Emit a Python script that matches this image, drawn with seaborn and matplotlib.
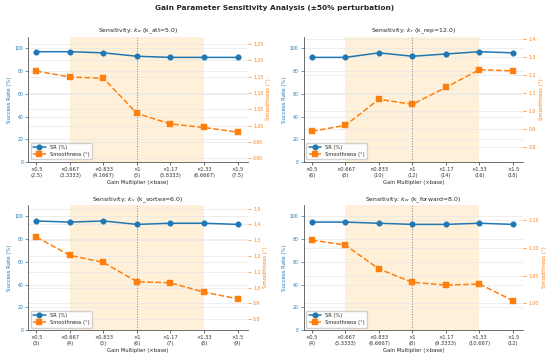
import matplotlib
matplotlib.use("Agg")
import matplotlib.pyplot as plt
import matplotlib.transforms as mtransforms
import seaborn as sns
import pandas as pd

# multipliers on x axis
multipliers = [0.5, 0.667, 0.833, 1, 1.17, 1.33, 1.5]
mult_exact = [0.5, 2 / 3, 5 / 6, 1.0, 7 / 6, 4 / 3, 1.5]

# per-gain settings
gain_symbols = ["k_a", "k_r", "k_v", "k_w"]
gain_names = ["k_att", "k_rep", "k_vortex", "k_forward"]
gain_bases = [5.0, 12.0, 6.0, 8.0]

# success rate (%)
sr_att = [97, 97, 96, 93, 92, 92, 92]
sr_rep = [92, 92, 96, 93, 95, 97, 96]
sr_vortex = [96, 95, 96, 93, 94, 94, 93]
sr_forward = [95, 95, 94, 93, 93, 94, 93]

# smoothness (deg)
sm_att = [1.167, 1.149, 1.145, 1.037, 1.005, 0.994, 0.980]
sm_rep = [0.889, 0.922, 1.066, 1.038, 1.132, 1.230, 1.223]
sm_vortex = [1.320, 1.204, 1.159, 1.037, 1.030, 0.971, 0.929]
sm_forward = [1.114, 1.105, 1.062, 1.038, 1.033, 1.035, 1.005]

# right axis limits
sm_limits = [(0.888, 1.272), (0.719, 1.411), (0.730, 1.523), (0.952, 1.177)]
sr_ticks = [0, 20, 40, 60, 80, 100]

sr_all = [sr_att, sr_rep, sr_vortex, sr_forward]
sm_all = [sm_att, sm_rep, sm_vortex, sm_forward]

sns.set_style("whitegrid")
plt.rcParams['font.family'] = ['DejaVu Sans']

blue = '#1f77b4'
orange = '#ff7f0e'
grid_c = '#e8e8e8'

fig, axes = plt.subplots(2, 2, figsize=(5.5, 3.55), dpi=100)
fig.subplots_adjust(left=0.051, right=0.951, top=0.896, bottom=0.07,
                    wspace=0.255, hspace=0.344)
fig.suptitle('Gain Parameter Sensitivity Analysis (±50% perturbation)',
             fontsize=5.3, fontweight='bold', y=0.985)

for i, ax in enumerate(axes.flat):
    base = gain_bases[i]
    df = pd.DataFrame({'x': range(len(multipliers)),
                       'sr': sr_all[i], 'sm': sm_all[i]})
    labels = [f"×{m:g}\n({base * me:.5g})" for m, me in zip(multipliers, mult_exact)]

    ax2 = ax.twinx()
    # ax (success rate) on top, ax2 (grid, shading, smoothness) underneath
    ax.set_zorder(ax2.get_zorder() + 1)
    ax.patch.set_visible(False)

    ax.set_ylim(0, 110)
    ax.set_xlim(-0.25, 6.3)
    ax2.set_ylim(*sm_limits[i])
    ax.set_xticks(range(len(multipliers)))
    ax.set_xticklabels(labels)
    ax.set_yticks(sr_ticks)

    # all grid lines live on the lower axes
    ax.grid(False)
    ax2.grid(True, color=grid_c, lw=0.5)
    ax2.xaxis.grid(True, color=grid_c, lw=0.5)
    trans = mtransforms.blended_transform_factory(ax2.transAxes, ax.transData)
    for t in sr_ticks:
        ax2.plot([0, 1], [t, t], transform=trans, color=grid_c, lw=0.5, zorder=0.5)

    ax2.axvspan(1, 5, color='#ffa500', alpha=0.15, lw=0, zorder=0)
    ax2.axvline(3, color='gray', ls=':', lw=0.7, zorder=1)

    sns.lineplot(data=df, x='x', y='sm', ax=ax2, color=orange, marker='s',
                 markersize=3.8, markerfacecolor=orange, markeredgecolor=orange,
                 markeredgewidth=0.3, lw=1.1, ls='--',
                 label='Smoothness (°)', legend=False, zorder=3)
    sns.lineplot(data=df, x='x', y='sr', ax=ax, color=blue, marker='o',
                 markersize=4, markerfacecolor=blue, markeredgecolor=blue,
                 markeredgewidth=0.3, lw=1.1, label='SR (%)', legend=False)

    ax.set_title(f"Sensitivity: ${gain_symbols[i]}$ ({gain_names[i]}={base:.1f})",
                 fontsize=4.4, pad=3)
    ax.set_xlabel('Gain Multiplier (×base)', fontsize=3.8, labelpad=1.5)
    ax.set_ylabel('Success Rate (%)', fontsize=3.9, color=blue, labelpad=2)
    ax2.set_ylabel('Smoothness (°)', fontsize=3.9, color=orange, labelpad=2)

    ax.tick_params(axis='x', labelsize=3.7, bottom=True, length=2, width=0.5,
                   pad=1.5, colors='#333333')
    ax.tick_params(axis='y', labelsize=3.3, left=True, length=2, width=0.5,
                   pad=1.5, colors=blue)
    ax2.tick_params(axis='y', labelsize=3.3, right=True, length=2, width=0.5,
                    pad=2, colors=orange)

    for s in ['top', 'right']:
        ax.spines[s].set_visible(False)
    for s in ['top', 'right', 'left', 'bottom']:
        ax2.spines[s].set_visible(False)
    for s in ['left', 'bottom']:
        ax.spines[s].set_color('#555555')
        ax.spines[s].set_linewidth(0.6)

    h1, l1 = ax.get_legend_handles_labels()
    h2, l2 = ax2.get_legend_handles_labels()
    ax.legend(h1 + h2, l1 + l2, loc='lower left', fontsize=3.7,
              frameon=True, framealpha=0.9, borderpad=0.5,
              handlelength=2.4, labelspacing=0.35)

plt.savefig('out.png', dpi=100)
